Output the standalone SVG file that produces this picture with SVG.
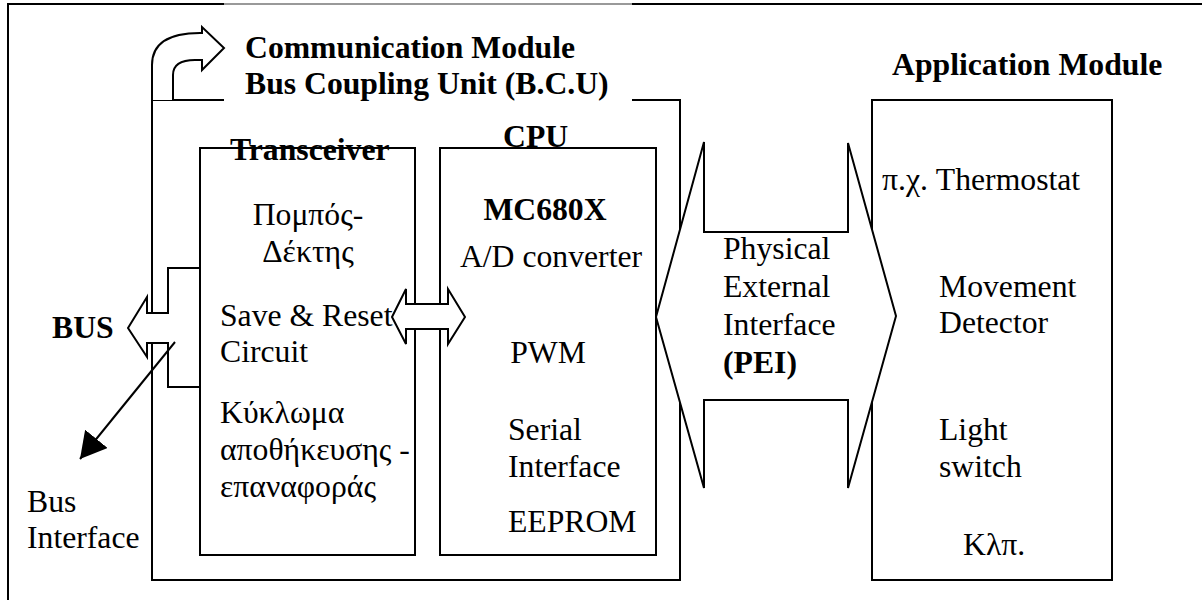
<svg xmlns="http://www.w3.org/2000/svg" width="1202" height="600" viewBox="0 0 1202 600">
<defs>
<style>
.ln{fill:none;stroke:#000;stroke-width:2}
.wf{fill:#fff;stroke:#000;stroke-width:2;stroke-linejoin:miter}
text{font-family:"Liberation Serif","Times New Roman",serif;font-size:31.7px;fill:#000}
.b{font-weight:bold}
.m{text-anchor:middle}
</style>
<marker id="ah" markerUnits="userSpaceOnUse" markerWidth="28" markerHeight="30" refX="26" refY="14.5" orient="auto">
<path d="M0,0 L26,14.5 L0,29 z" fill="#000"/>
</marker>
</defs>
<rect width="1202" height="600" fill="#fff"/>
<g id="frame">
<line class="ln" x1="8" y1="4" x2="224" y2="4"/>
<line x1="224" y1="4" x2="632" y2="4" stroke="#999" stroke-width="2"/>
<line class="ln" x1="632" y1="4" x2="1202" y2="4"/>
<line class="ln" x1="8" y1="3" x2="8" y2="600"/>
</g>
<g id="bcu">
<path class="ln" d="M224,100 L152,100 L152,580 L680,580 L680,100 L632,100"/>
<text class="b" x="245" y="58">Communication Module</text>
<text class="b" x="245" y="94">Bus Coupling Unit (B.C.U)</text>
</g>
<g id="transceiver">
<rect class="ln" x="200" y="148" width="215" height="407"/>
<text class="b" x="230" y="160">Transceiver</text>
<text class="m" x="308" y="225">Πομπός-</text>
<text class="m" x="308" y="262">Δέκτης</text>
<text x="220" y="326">Save &amp; Reset</text>
<text x="220" y="362">Circuit</text>
<text x="220" y="423">Κύκλωμα</text>
<text x="220" y="460">αποθήκευσης -</text>
<text x="220" y="497">επαναφοράς</text>
</g>
<g id="cpu">
<rect class="ln" x="440" y="148" width="216" height="407"/>
<text class="b" x="503" y="147">CPU</text>
<text class="b m" x="545" y="220">MC680X</text>
<text class="m" x="551" y="267">A/D converter</text>
<text class="m" x="548" y="363">PWM</text>
<text x="508" y="440">Serial</text>
<text x="508" y="477">Interface</text>
<text x="508" y="532">EEPROM</text>
</g>
<g id="application">
<rect class="ln" x="872" y="100" width="240" height="480"/>
<text class="b" x="892" y="75">Application Module</text>
<text x="882" y="190">π.χ. Thermostat</text>
<text x="939" y="297">Movement</text>
<text x="939" y="333">Detector</text>
<text x="939" y="440">Light</text>
<text x="939" y="477">switch</text>
<text x="963" y="555">Κλπ.</text>
</g>
<g id="connectors">
<path class="wf" d="M152,100 L152,65 Q152,33 200,33 L202,33 L202,27 L224,48 L202,70 L202,60 L195,60 Q173,60 173,75 L173,100"/>
<polygon class="wf" points="128,328 147,297 147,313 168,313 168,268 200,268 200,387 168,387 168,343 147,343 147,357"/>
<polygon class="wf" points="392,317 406,289 406,304 448,304 448,289 465,317 448,344 448,329 406,329 406,344"/>
<polygon class="wf" points="656,317 704,142 704,232 848,232 848,143 896,316 848,488 848,400 704,400 704,488"/>
<line class="ln" x1="175" y1="342" x2="80" y2="459" marker-end="url(#ah)"/>
</g>
<g id="labels">
<text class="b" x="52" y="338">BUS</text>
<text x="27" y="512">Bus</text>
<text x="27" y="548">Interface</text>
<text x="723" y="259">Physical</text>
<text x="723" y="297">External</text>
<text x="723" y="335">Interface</text>
<text class="b" x="723" y="373">(PEI)</text>
</g>
</svg>
